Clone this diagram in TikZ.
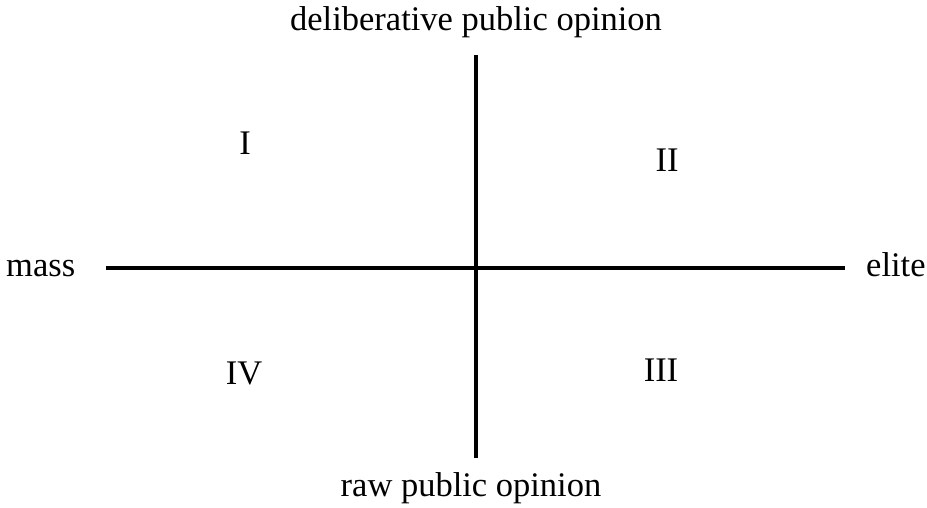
\documentclass[tikz,border=0pt]{standalone}
\usepackage{fontspec}
\setmainfont{Liberation Serif}
\begin{document}
\begin{tikzpicture}[x=1pt,y=-1pt,
  lbl/.style={inner sep=0pt,anchor=base,font=\fontsize{34.5}{40}\selectfont},
  axis/.style={line width=4pt}]
\useasboundingbox (0,0) rectangle (927,507);
\coordinate (top) at (475.5,55);
\coordinate (bot) at (475.5,458);
\coordinate (left) at (106,268);
\coordinate (right) at (845,268);
\draw[axis] (left) -- (right);
\draw[axis] (top) -- (bot);
\node[lbl] (delib) at (476,30) {deliberative public opinion};
\node[lbl] (raw) at (471,496) {raw public opinion};
\node[lbl,anchor=base west] (mass) at (6,276) {mass};
\node[lbl,anchor=base west] (elite) at (866,276) {elite};
\node[lbl] (q1) at (245,154) {I};
\node[lbl] (q2) at (667,171) {II};
\node[lbl] (q3) at (661,381) {III};
\node[lbl] (q4) at (244,384) {IV};
\end{tikzpicture}
\end{document}
